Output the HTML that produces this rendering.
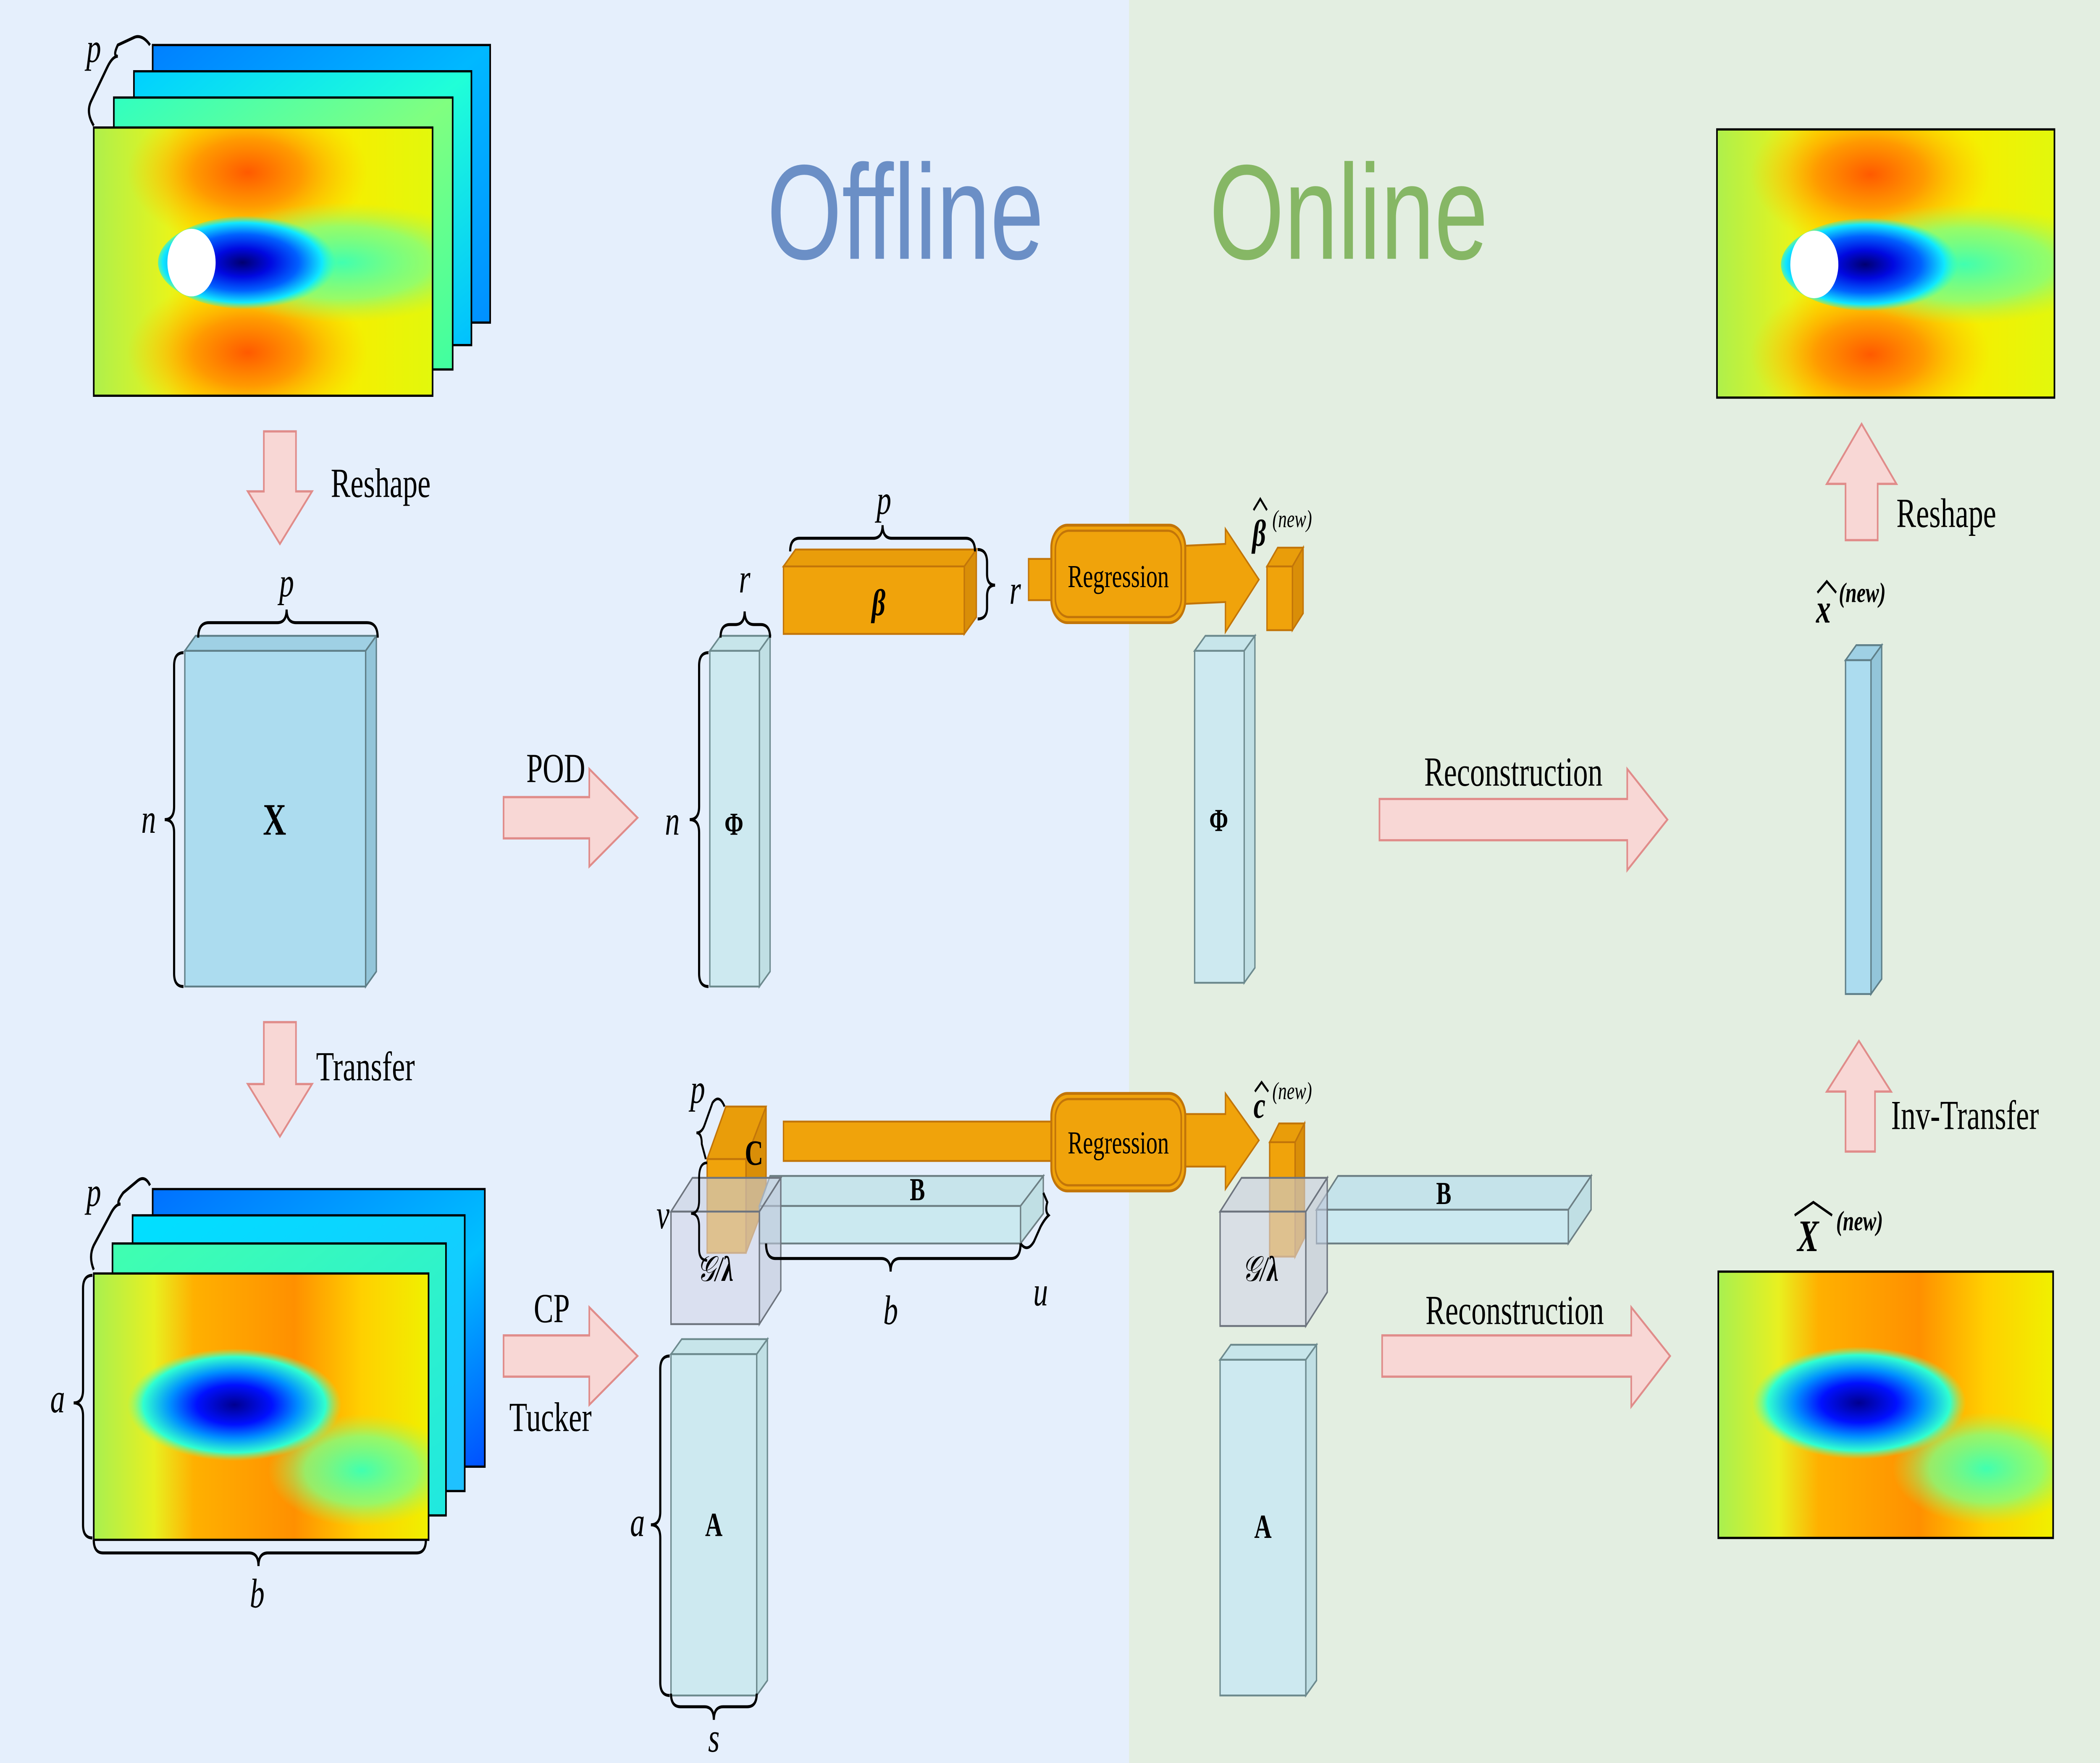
<!DOCTYPE html>
<html><head><meta charset="utf-8">
<style>
html,body{margin:0;padding:0;width:100%;height:100%;overflow:hidden;background:#e5effc;}
svg{display:block;position:fixed;left:0;top:0;width:100vw;height:100vh;}
text{font-family:"Liberation Serif",serif;}
.it{font-style:italic;}
.b{font-weight:bold;}
</style></head><body>
<svg xmlns="http://www.w3.org/2000/svg" viewBox="0 0 1568 940" preserveAspectRatio="none">
<defs>
 <clipPath id="c1"><rect x="0" y="0" width="253" height="143"/></clipPath>
 <clipPath id="c2"><rect x="0" y="0" width="250" height="142"/></clipPath>
 <linearGradient id="base" x1="0" y1="0" x2="1" y2="0">
  <stop offset="0" stop-color="#aef04c"/><stop offset="0.22" stop-color="#e6f41c"/><stop offset="0.3" stop-color="#fae800"/><stop offset="0.75" stop-color="#f6ee00"/><stop offset="1" stop-color="#e2f80c"/>
 </linearGradient>
 <radialGradient id="org"><stop offset="0" stop-color="#ff5a00"/><stop offset="0.45" stop-color="#ff9a00"/><stop offset="1" stop-color="#ffc800" stop-opacity="0"/></radialGradient>
 <radialGradient id="grn"><stop offset="0" stop-color="#40ffb0"/><stop offset="0.6" stop-color="#80ff80" stop-opacity="0.8"/><stop offset="1" stop-color="#b0f050" stop-opacity="0"/></radialGradient>
 <radialGradient id="blu" cx="0.45"><stop offset="0" stop-color="#000070"/><stop offset="0.3" stop-color="#0008e0"/><stop offset="0.6" stop-color="#0060ff"/><stop offset="0.85" stop-color="#10e8ff"/><stop offset="1" stop-color="#20ffd0" stop-opacity="0"/></radialGradient>
 <linearGradient id="f4" x1="0" y1="0" x2="1" y2="1"><stop offset="0" stop-color="#0080ff"/><stop offset="0.5" stop-color="#00b8ff"/><stop offset="1" stop-color="#0090ff"/></linearGradient>
 <linearGradient id="f3" x1="0" y1="0" x2="1" y2="1"><stop offset="0" stop-color="#00d0ff"/><stop offset="0.5" stop-color="#20ffd8"/><stop offset="1" stop-color="#00c0ff"/></linearGradient>
 <linearGradient id="f2" x1="0" y1="0" x2="1" y2="1"><stop offset="0" stop-color="#30ffc0"/><stop offset="0.5" stop-color="#80ff80"/><stop offset="1" stop-color="#40ffa0"/></linearGradient>
 <linearGradient id="b4" x1="0" y1="0" x2="1" y2="1"><stop offset="0" stop-color="#0070ff"/><stop offset="0.6" stop-color="#00c0ff"/><stop offset="1" stop-color="#0050ff"/></linearGradient>
 <linearGradient id="b3" x1="0" y1="0" x2="1" y2="1"><stop offset="0" stop-color="#00e0ff"/><stop offset="1" stop-color="#20c0ff"/></linearGradient>
 <linearGradient id="b2" x1="0" y1="0" x2="1" y2="1"><stop offset="0" stop-color="#40ffb0"/><stop offset="1" stop-color="#20e8e0"/></linearGradient>
 <linearGradient id="bbase" x1="0" y1="0" x2="1" y2="0">
  <stop offset="0" stop-color="#a8f050"/><stop offset="0.18" stop-color="#e8f020"/><stop offset="0.3" stop-color="#ffb000"/><stop offset="0.6" stop-color="#ff9000"/><stop offset="0.8" stop-color="#ffd000"/><stop offset="1" stop-color="#f0f000"/>
 </linearGradient>
 <radialGradient id="bblu" cx="0.5"><stop offset="0" stop-color="#000090"/><stop offset="0.35" stop-color="#0010ff"/><stop offset="0.6" stop-color="#0090ff"/><stop offset="0.85" stop-color="#30ffd0"/><stop offset="1" stop-color="#80ff80" stop-opacity="0"/></radialGradient>
 <g id="field">
  <g clip-path="url(#c1)">
  <rect x="0" y="0" width="253" height="143" fill="url(#base)"/>
  <ellipse cx="115" cy="24" rx="90" ry="40" fill="url(#org)"/>
  <ellipse cx="115" cy="120" rx="90" ry="40" fill="url(#org)"/>
  <ellipse cx="185" cy="72" rx="110" ry="32" fill="url(#grn)"/>
  <ellipse cx="118" cy="72" rx="70" ry="25" fill="url(#blu)"/>
  <circle cx="73" cy="72" r="18" fill="#fff"/>
  </g>
  <rect x="0" y="0" width="253" height="143" fill="none" stroke="#000" stroke-width="1.2"/>
 </g>
 <g id="bfield">
  <g clip-path="url(#c2)">
  <rect x="0" y="0" width="250" height="142" fill="url(#bbase)"/>
  <ellipse cx="200" cy="105" rx="70" ry="30" fill="url(#grn)"/>
  <ellipse cx="105" cy="70" rx="80" ry="30" fill="url(#bblu)"/>
  </g>
  <rect x="0" y="0" width="250" height="142" fill="none" stroke="#000" stroke-width="1.2"/>
 </g>
</defs>

<rect x="0" y="0" width="843" height="940" fill="#e5effc"/>
<rect x="843" y="0" width="725" height="940" fill="#e3eee1"/>

<text x="676" y="138" style="font-family:'Liberation Sans',sans-serif;fill:#6b8fc6" font-size="72" text-anchor="middle">Offline</text>
<text x="1007" y="138" style="font-family:'Liberation Sans',sans-serif;fill:#86b765" font-size="72" text-anchor="middle">Online</text>

<!-- top-left stack -->
<rect x="114" y="24" width="252" height="148" fill="url(#f4)" stroke="#000" stroke-width="1.2"/>
<rect x="100" y="38" width="252" height="146" fill="url(#f3)" stroke="#000" stroke-width="1.2"/>
<rect x="85" y="52" width="253" height="145" fill="url(#f2)" stroke="#000" stroke-width="1.2"/>
<use href="#field" transform="translate(70,68)"/>
<path d="M70 67 Q64 60 68 54 L80 36 Q84 30 88 30 Q84 30 88 24 L100 20 Q106 18 112 24" fill="none" stroke="#000" stroke-width="1.6"/>
<text x="70" y="33" class="it" font-size="22" text-anchor="middle">p</text>

<!-- reshape down -->
<polygon points="197,230 221,230 221,262 233,262 209,290 185,262 197,262" fill="#f8d7d5" stroke="#e08c8a" stroke-width="1.2"/>
<text x="247" y="265" font-size="22">Reshape</text>

<!-- X -->
<polygon points="138,347 146,339 281,339 273,347" fill="#9fd0e4" stroke="#5f7f88" stroke-width="1"/>
<polygon points="273,347 281,339 281,518 273,526" fill="#93c5d9" stroke="#5f7f88" stroke-width="1"/>
<rect x="138" y="347" width="135" height="179" fill="#acdcef" stroke="#5f7f88" stroke-width="1"/>
<text x="205" y="445" class="b" font-size="24" text-anchor="middle">X</text>
<path d="M148 340 Q148 332 156 332 L207 332 Q214 332 214 325 Q214 332 221 332 L274 332 Q282 332 282 340" fill="none" stroke="#000" stroke-width="1.6"/>
<text x="214" y="318" class="it" font-size="22" text-anchor="middle">p</text>
<path d="M137 348 Q130 348 130 355 L130 430 Q130 437 123 437 Q130 437 130 444 L130 519 Q130 526 137 526" fill="none" stroke="#000" stroke-width="1.6"/>
<text x="111" y="444" class="it" font-size="22" text-anchor="middle">n</text>

<!-- transfer -->
<polygon points="197,545 221,545 221,578 233,578 209,606 185,578 197,578" fill="#f8d7d5" stroke="#e08c8a" stroke-width="1.2"/>
<text x="236" y="576" font-size="22">Transfer</text>

<!-- bottom-left stack -->
<rect x="114" y="634" width="248" height="148" fill="url(#b4)" stroke="#000" stroke-width="1.2"/>
<rect x="99" y="648" width="248" height="147" fill="url(#b3)" stroke="#000" stroke-width="1.2"/>
<rect x="84" y="663" width="249" height="145" fill="url(#b2)" stroke="#000" stroke-width="1.2"/>
<use href="#bfield" transform="translate(70,679)"/>
<path d="M70 677 Q66 670 70 664 L82 648 Q86 642 90 642 Q86 642 92 636 L102 630 Q108 626 112 632" fill="none" stroke="#000" stroke-width="1.6"/>
<text x="70" y="643" class="it" font-size="22" text-anchor="middle">p</text>
<path d="M69 680 Q62 680 62 687 L62 741 Q62 748 55 748 Q62 748 62 755 L62 813 Q62 820 69 820" fill="none" stroke="#000" stroke-width="1.6"/>
<text x="43" y="753" class="it" font-size="22" text-anchor="middle">a</text>
<path d="M70 821 Q70 828 77 828 L186 828 Q193 828 193 835 Q193 828 200 828 L311 828 Q318 828 318 821" fill="none" stroke="#000" stroke-width="1.6"/>
<text x="192" y="857" class="it" font-size="22" text-anchor="middle">b</text>

<!-- POD / CP arrows -->
<polygon points="376,425 440,425 440,410 476,436 440,462 440,447 376,447" fill="#f8d7d5" stroke="#e08c8a" stroke-width="1.2"/>
<text x="415" y="417" font-size="22" text-anchor="middle">POD</text>
<polygon points="376,712 440,712 440,697 476,723 440,749 440,734 376,734" fill="#f8d7d5" stroke="#e08c8a" stroke-width="1.2"/>
<text x="412" y="705" font-size="22" text-anchor="middle">CP</text>
<text x="411" y="763" font-size="22" text-anchor="middle">Tucker</text>

<!-- Phi offline -->
<polygon points="530,347 538,339 575,339 567,347" fill="#c7e5ea" stroke="#6d8a8e" stroke-width="1"/>
<polygon points="567,347 575,339 575,518 567,526" fill="#c0dfe4" stroke="#6d8a8e" stroke-width="1"/>
<rect x="530" y="347" width="37" height="179" fill="#cde9f0" stroke="#6d8a8e" stroke-width="1"/>
<text x="548" y="445" class="b" font-size="17" text-anchor="middle">Φ</text>
<path d="M538 340 Q538 333 545 333 L549 333 Q556 333 556 326 Q556 333 563 333 L568 333 Q575 333 575 340" fill="none" stroke="#000" stroke-width="1.6"/>
<text x="556" y="316" class="it" font-size="22" text-anchor="middle">r</text>
<path d="M529 348 Q522 348 522 355 L522 430 Q522 437 515 437 Q522 437 522 444 L522 519 Q522 526 529 526" fill="none" stroke="#000" stroke-width="1.6"/>
<text x="502" y="445" class="it" font-size="22" text-anchor="middle">n</text>

<!-- beta -->
<polygon points="585,302 594,293 729,293 720,302" fill="#e99d0a" stroke="#c27509" stroke-width="1"/>
<polygon points="720,302 729,293 729,329 720,338" fill="#d98e08" stroke="#c27509" stroke-width="1"/>
<rect x="585" y="302" width="135" height="36" fill="#f0a30b" stroke="#c27509" stroke-width="1"/>
<text x="656" y="328" class="it b" font-size="20" text-anchor="middle">β</text>
<path d="M590 294 Q590 287 597 287 L652 287 Q659 287 659 280 Q659 287 666 287 L721 287 Q728 287 728 294" fill="none" stroke="#000" stroke-width="1.6"/>
<text x="660" y="274" class="it" font-size="22" text-anchor="middle">p</text>
<path d="M730 293 Q737 293 737 300 L737 306 Q737 312 743 312 Q737 312 737 318 L737 324 Q737 330 730 330" fill="none" stroke="#000" stroke-width="1.6"/>
<text x="758" y="322" class="it" font-size="22" text-anchor="middle">r</text>

<!-- regression top -->
<rect x="768" y="298" width="18" height="22" fill="#f0a30b" stroke="#c27509" stroke-width="1"/>
<polygon points="884,291 915,290 915,282 940,309 915,337 915,321 884,322" fill="#f0a30b" stroke="#c27509" stroke-width="1"/>
<rect x="785" y="280" width="100" height="52" rx="12" fill="#f0a30b" stroke="#c27509" stroke-width="1.5"/>
<rect x="788" y="283" width="94" height="46" rx="10" fill="none" stroke="#c27509" stroke-width="1.2"/>
<text x="835" y="313" font-size="17" text-anchor="middle">Regression</text>
<polygon points="946,302 954,292 973,292 965,302" fill="#e99d0a" stroke="#c27509" stroke-width="1"/>
<polygon points="965,302 973,292 973,327 965,336" fill="#d98e08" stroke="#c27509" stroke-width="1"/>
<rect x="946" y="302" width="19" height="34" fill="#f0a30b" stroke="#c27509" stroke-width="1"/>
<text x="935" y="291" class="it b" font-size="20">β</text>
<path d="M936 272 L941 266 L946 272" fill="none" stroke="#000" stroke-width="1.3"/>
<text x="950" y="281" class="it" font-size="13">(new)</text>

<!-- Phi online -->
<polygon points="892,347 900,339 937,339 929,347" fill="#c7e5ea" stroke="#6d8a8e" stroke-width="1"/>
<polygon points="929,347 937,339 937,516 929,524" fill="#c0dfe4" stroke="#6d8a8e" stroke-width="1"/>
<rect x="892" y="347" width="37" height="177" fill="#cde9f0" stroke="#6d8a8e" stroke-width="1"/>
<text x="910" y="443" class="b" font-size="17" text-anchor="middle">Φ</text>

<!-- Reconstruction arrows -->
<polygon points="1030,426 1215,426 1215,410 1245,437 1215,464 1215,448 1030,448" fill="#f8d7d5" stroke="#e08c8a" stroke-width="1.2"/>
<text x="1130" y="419" font-size="22" text-anchor="middle">Reconstruction</text>
<polygon points="1032,712 1218,712 1218,697 1247,723 1218,750 1218,734 1032,734" fill="#f8d7d5" stroke="#e08c8a" stroke-width="1.2"/>
<text x="1131" y="706" font-size="22" text-anchor="middle">Reconstruction</text>

<!-- x hat -->
<polygon points="1378,352 1386,344 1405,344 1397,352" fill="#9fd0e4" stroke="#5f7f88" stroke-width="1"/>
<polygon points="1397,352 1405,344 1405,522 1397,530" fill="#93c5d9" stroke="#5f7f88" stroke-width="1"/>
<rect x="1378" y="352" width="19" height="178" fill="#acdcef" stroke="#5f7f88" stroke-width="1"/>
<text x="1356" y="332" class="it b" font-size="22">x</text>
<path d="M1357 316 L1364 310 L1371 316" fill="none" stroke="#000" stroke-width="1.4"/>
<text x="1373" y="321" class="it b" font-size="15">(new)</text>

<polygon points="1378,614 1400,614 1400,582 1412,582 1388,555 1364,582 1378,582" fill="#f8d7d5" stroke="#e08c8a" stroke-width="1.2"/>
<text x="1412" y="602" font-size="22">Inv-Transfer</text>
<polygon points="1378,288 1402,288 1402,258 1416,258 1390,226 1364,258 1378,258" fill="#f8d7d5" stroke="#e08c8a" stroke-width="1.2"/>
<text x="1416" y="281" font-size="22">Reshape</text>

<use href="#field" transform="translate(1282,69) scale(0.996,1)"/>
<use href="#bfield" transform="translate(1283,678)"/>
<text x="1342" y="667" class="it b" font-size="24">X</text>
<path d="M1340 648 L1354 641 L1368 648" fill="none" stroke="#000" stroke-width="1.4"/>
<text x="1371" y="656" class="it b" font-size="15">(new)</text>

<!-- offline bottom: orange bar and regression -->
<rect x="585" y="598" width="201" height="21" fill="#f0a30b" stroke="#c27509" stroke-width="1"/>
<polygon points="884,594 915,594 915,583 940,608 915,634 915,622 884,622" fill="#f0a30b" stroke="#c27509" stroke-width="1"/>
<rect x="785" y="583" width="100" height="52" rx="12" fill="#f0a30b" stroke="#c27509" stroke-width="1.5"/>
<rect x="788" y="586" width="94" height="46" rx="10" fill="none" stroke="#c27509" stroke-width="1.2"/>
<text x="835" y="615" font-size="17" text-anchor="middle">Regression</text>

<!-- C offline -->
<polygon points="528,618 542,590 572,590 557,618" fill="#e99d0a" stroke="#c27509" stroke-width="1"/>
<polygon points="557,618 572,590 572,640 557,668" fill="#d98e08" stroke="#c27509" stroke-width="1"/>
<rect x="528" y="618" width="29" height="50" fill="#f0a30b" stroke="#c27509" stroke-width="1"/>
<text x="563" y="621" class="b" font-size="19" text-anchor="middle">C</text>
<!-- B offline -->
<polygon points="567,643 575,627 779,627 762,643" fill="#c5e3ea" stroke="#6d7f84" stroke-width="1" fill-opacity="0.95"/>
<polygon points="762,643 779,627 779,647 762,663" fill="#c0dfe4" stroke="#6d7f84" stroke-width="1"/>
<rect x="567" y="643" width="195" height="20" fill="#cbe9f0" stroke="#6d7f84" stroke-width="1"/>
<text x="685" y="640" class="b" font-size="17" text-anchor="middle">B</text>
<!-- G cube offline -->
<polygon points="501,646 517,628 583,628 567,646" fill="#c8cfe0" fill-opacity="0.6" stroke="#6d747e" stroke-width="1"/>
<polygon points="567,646 583,628 583,688 567,706" fill="#c0c6d8" fill-opacity="0.6" stroke="#6d747e" stroke-width="1"/>
<rect x="501" y="646" width="66" height="60" fill="#d2d6e8" fill-opacity="0.6" stroke="#6d747e" stroke-width="1"/>
<text x="534" y="683" class="it" font-size="19" text-anchor="middle">𝒢/<tspan class="b">λ</tspan></text>
<path d="M528 620 Q522 620 522 628 L522 640 Q522 647 516 647 Q522 647 522 654 L522 666 Q522 672 528 672" fill="none" stroke="#000" stroke-width="1.4"/>
<path d="M541 590 Q537 583 532 588 L526 600 Q524 604 520 604 Q524 604 524 610 L527 618" fill="none" stroke="#000" stroke-width="1.4"/>
<text x="521" y="588" class="it" font-size="22" text-anchor="middle">p</text>
<text x="495" y="655" class="it" font-size="22" text-anchor="middle">v</text>
<path d="M572 663 Q572 671 579 671 L658 671 Q665 671 665 678 Q665 671 672 671 L755 671 Q762 671 762 663" fill="none" stroke="#000" stroke-width="1.6"/>
<text x="665" y="706" class="it" font-size="22" text-anchor="middle">b</text>
<path d="M762 663 Q767 668 772 662 L777 654 Q780 650 783 648 Q780 646 782 641 L779 636" fill="none" stroke="#000" stroke-width="1.5"/>
<text x="777" y="696" class="it" font-size="22" text-anchor="middle">u</text>

<!-- A offline -->
<polygon points="501,722 509,714 573,714 565,722" fill="#c7e5ea" stroke="#6d8a8e" stroke-width="1"/>
<polygon points="565,722 573,714 573,896 565,904" fill="#c0dfe4" stroke="#6d8a8e" stroke-width="1"/>
<rect x="501" y="722" width="64" height="182" fill="#cde9f0" stroke="#6d8a8e" stroke-width="1"/>
<text x="533" y="819" class="b" font-size="18" text-anchor="middle">A</text>
<path d="M500 723 Q493 723 493 730 L493 806 Q493 813 486 813 Q493 813 493 820 L493 897 Q493 904 500 904" fill="none" stroke="#000" stroke-width="1.6"/>
<text x="476" y="819" class="it" font-size="22" text-anchor="middle">a</text>
<path d="M501 903 Q501 910 508 910 L526 910 Q533 910 533 917 Q533 910 540 910 L558 910 Q565 910 565 903" fill="none" stroke="#000" stroke-width="1.6"/>
<text x="533" y="934" class="it" font-size="22" text-anchor="middle">s</text>

<!-- online bottom -->
<polygon points="983,645 999,627 1188,627 1171,645" fill="#c5e3ea" stroke="#6d7f84" stroke-width="1"/>
<polygon points="1171,645 1188,627 1188,645 1171,663" fill="#c0dfe4" stroke="#6d7f84" stroke-width="1"/>
<rect x="983" y="645" width="188" height="18" fill="#cbe9f0" stroke="#6d7f84" stroke-width="1"/>
<text x="1078" y="642" class="b" font-size="17" text-anchor="middle">B</text>
<polygon points="948,609 955,599 974,599 967,609" fill="#e99d0a" stroke="#c27509" stroke-width="1"/>
<polygon points="967,609 974,599 974,660 967,670" fill="#d98e08" stroke="#c27509" stroke-width="1"/>
<rect x="948" y="609" width="19" height="61" fill="#f0a30b" stroke="#c27509" stroke-width="1"/>
<polygon points="911,646 927,628 991,628 975,646" fill="#c8cfe0" fill-opacity="0.6" stroke="#6d747e" stroke-width="1"/>
<polygon points="975,646 991,628 991,689 975,707" fill="#c0c6d8" fill-opacity="0.6" stroke="#6d747e" stroke-width="1"/>
<rect x="911" y="646" width="64" height="61" fill="#d2d6e8" fill-opacity="0.6" stroke="#6d747e" stroke-width="1"/>
<text x="941" y="683" class="it" font-size="19" text-anchor="middle">𝒢/<tspan class="b">λ</tspan></text>
<text x="936" y="596" class="it b" font-size="20">c</text>
<path d="M937 582 L942 577 L947 582" fill="none" stroke="#000" stroke-width="1.3"/>
<text x="950" y="586" class="it" font-size="13">(new)</text>
<polygon points="911,725 919,717 983,717 975,725" fill="#c7e5ea" stroke="#6d8a8e" stroke-width="1"/>
<polygon points="975,725 983,717 983,896 975,904" fill="#c0dfe4" stroke="#6d8a8e" stroke-width="1"/>
<rect x="911" y="725" width="64" height="179" fill="#cde9f0" stroke="#6d8a8e" stroke-width="1"/>
<text x="943" y="820" class="b" font-size="18" text-anchor="middle">A</text>
</svg>
</body></html>
